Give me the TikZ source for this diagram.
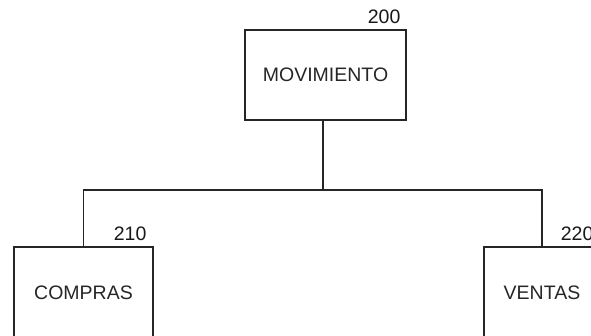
\documentclass[tikz,border=0pt]{standalone}
\usepackage{fontspec}
\setmainfont{Liberation Sans}
\begin{document}
\begin{tikzpicture}[x=1pt,y=-1pt,
  box/.style={draw=black!85,line width=1.1pt,rectangle,inner sep=0pt,font=\fontsize{19.5}{22}\selectfont,text=black!85},
  num/.style={anchor=base east,inner sep=0pt,font=\fontsize{19.5}{22}\selectfont,text=black!90},
  link/.style={draw=black!85,line width=1.1pt}]
\useasboundingbox (0,0) rectangle (591,336);
\clip (0,0) rectangle (591,336);
\node[box,minimum width=161pt,minimum height=90pt] (mov) at (325.5,75) {MOVIMIENTO};
\node[box,minimum width=139pt,minimum height=92pt] (com) at (83.5,293) {COMPRAS};
\node[box,minimum width=116pt,minimum height=92pt] (ven) at (542,293) {VENTAS};
\node[num] (n200) at ([xshift=-6pt,yshift=6pt]mov.north east) {200};
\node[num] (n210) at ([xshift=-7pt,yshift=6pt]com.north east) {210};
\node[num] (n220) at ([xshift=-7pt,yshift=6pt]ven.north east) {220};
\coordinate (j) at (323,190);
\draw[link] (mov.south -| j) -- (j);
\draw[link] (com.north) |- (j) -| (ven.north);
\end{tikzpicture}
\end{document}
